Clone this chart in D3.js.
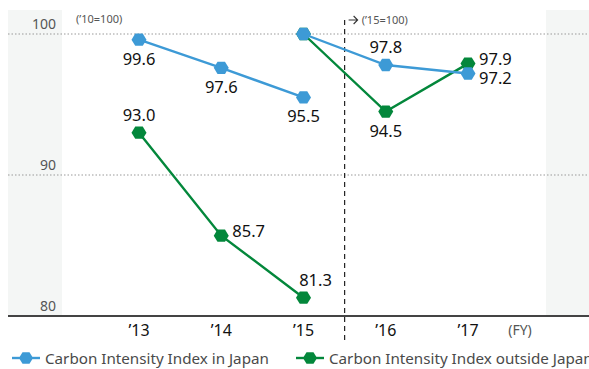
<!DOCTYPE html>
<html>
<head>
<meta charset="utf-8">
<script src="https://cdn.jsdelivr.net/npm/d3@7"></script>
<style>
  body { margin: 0; background: #fff; }
  svg { display: block; font-family: "Noto Sans", "Open Sans", sans-serif; }
</style>
</head>
<body>
<div id="chart"></div>
<script>
// ---- data ----
const years = ["’13", "’14", "’15", "’16", "’17"];
const yTicks = [80, 90, 100];

// base '10 = 100
const japanOld   = [99.6, 97.6, 95.5];   // '13 - '15
const outsideOld = [93.0, 85.7, 81.3];
// base '15 = 100
const japanNew   = [100, 97.8, 97.2];    // '15 - '17
const outsideNew = [100, 94.5, 97.9];

// label placement for each value (style only)
const japanOldPos   = ["below", "below", "below"];
const outsideOldPos = ["above", "right", "aboveRight"];
const japanNewPos   = [null, "above", "rightLow"];
const outsideNewPos = [null, "below", "right"];

// offsets for each placement: dx, dy, anchor
const placeStyle = {
  below:      [0, 25, "middle"],
  above:      [0, -12, "middle"],
  aboveRight: [12, -12, "middle"],
  right:      [11, 1.5, "start"],
  rightLow:   [11, 11, "start"]
};

const W = 589, H = 369;
const blue = "#3d9ad6", green = "#03873b";

const svg = d3.select("#chart").append("svg").attr("width", W).attr("height", H);

const x = d3.scalePoint().domain(years).range([139, 468]);
const y = d3.scaleLinear().domain([80, 100]).range([316, 34]);

// shaded side panels
svg.append("rect").attr("x", 8).attr("y", 10).attr("width", 54).attr("height", y(80) - 10).attr("fill", "#f4f6f5");
svg.append("rect").attr("x", 546).attr("y", 10).attr("width", W - 546).attr("height", y(80) - 10).attr("fill", "#f4f6f5");

// grid lines + y labels
yTicks.forEach(t => {
  if (t !== 80) {
    svg.append("line").attr("x1", 8).attr("x2", W).attr("y1", y(t)).attr("y2", y(t))
      .attr("stroke", "#999").attr("stroke-width", 1).attr("stroke-dasharray", "1.5,2");
  }
  svg.append("text").attr("x", 56).attr("y", y(t) - 5).attr("text-anchor", "end")
    .attr("font-size", 14).attr("fill", "#555").text(t);
});

// base axis
svg.append("line").attr("x1", 8).attr("x2", W).attr("y1", y(80)).attr("y2", y(80))
  .attr("stroke", "#444").attr("stroke-width", 2);

// x tick labels
years.forEach(yr => {
  svg.append("text").attr("x", x(yr)).attr("y", 336).attr("text-anchor", "middle")
    .attr("font-size", 16).attr("fill", "#111").text(yr);
});
svg.append("text").attr("x", 520).attr("y", 335).attr("text-anchor", "middle")
  .attr("font-size", 14).attr("fill", "#555").text("(FY)");

// base change divider
const divX = (x(years[2]) + x(years[3])) / 2;
svg.append("line").attr("x1", divX).attr("x2", divX).attr("y1", 20).attr("y2", 340)
  .attr("stroke", "#222").attr("stroke-width", 1.2).attr("stroke-dasharray", "5,4");
svg.append("path").attr("d", `M${divX + 4},20 H${divX + 13} M${divX + 9},16 L${divX + 13},20 L${divX + 9},24`)
  .attr("fill", "none").attr("stroke", "#333").attr("stroke-width", 1.1);
svg.append("text").attr("x", divX + 17).attr("y", 24).attr("font-size", 11).attr("fill", "#555").text("(’15=100)");
svg.append("text").attr("x", 76).attr("y", 23).attr("font-size", 11).attr("fill", "#555").text("(’10=100)");

// hexagon marker
const hex = (r) => {
  const pts = d3.range(6).map(i => {
    const a = Math.PI / 3 * i;
    return [r * Math.cos(a), r * Math.sin(a) * 0.95];
  });
  return "M" + pts.map(p => p.join(",")).join("L") + "Z";
};

const line = d3.line().x(d => x(d.year)).y(d => y(d.v));

function drawSeries(values, yrs, placements, color) {
  const pts = values.map((v, i) => ({ v, year: yrs[i], pos: placements[i] }));
  const g = svg.append("g");
  g.append("path").datum(pts).attr("d", line).attr("fill", "none")
    .attr("stroke", color).attr("stroke-width", 2.4);
  g.selectAll("path.m").data(pts).join("path").attr("class", "m")
    .attr("d", hex(7.5))
    .attr("transform", d => `translate(${x(d.year)},${y(d.v)})`)
    .attr("fill", color);
  g.selectAll("text").data(pts.filter(d => d.pos)).join("text")
    .attr("font-size", 16.5).attr("fill", "#111")
    .attr("x", d => x(d.year) + placeStyle[d.pos][0])
    .attr("y", d => y(d.v) + placeStyle[d.pos][1])
    .attr("text-anchor", d => placeStyle[d.pos][2])
    .text(d => d3.format(".1f")(d.v));
}

drawSeries(outsideOld, years.slice(0, 3), outsideOldPos, green);
drawSeries(japanOld, years.slice(0, 3), japanOldPos, blue);
drawSeries(outsideNew, years.slice(2), outsideNewPos, green);
drawSeries(japanNew, years.slice(2), japanNewPos, blue);

// legend
const legend = [
  { name: "Carbon Intensity Index in Japan", color: blue, x: 12 },
  { name: "Carbon Intensity Index outside Japan", color: green, x: 296 }
];
legend.forEach(l => {
  const g = svg.append("g").attr("transform", `translate(${l.x},358)`);
  g.append("line").attr("x1", 0).attr("x2", 28).attr("stroke", l.color).attr("stroke-width", 2.4);
  g.append("path").attr("d", hex(7)).attr("transform", "translate(14,0)").attr("fill", l.color);
  g.append("text").attr("x", 33).attr("y", 5.5).attr("font-size", 15.2).attr("fill", "#4a4a4a").text(l.name);
});
</script>
</body>
</html>
